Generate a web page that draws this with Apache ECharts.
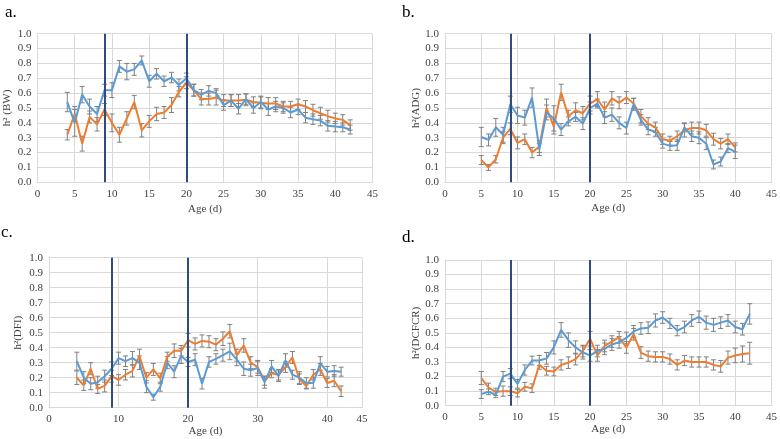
<!DOCTYPE html>
<html><head><meta charset="utf-8">
<script src="https://cdn.jsdelivr.net/npm/echarts@6/dist/echarts.min.js"></script>
<style>html,body{margin:0;padding:0;background:#fff}#c{width:780px;height:439px}</style>
</head><body><div id="c"></div>
<script>
// ---- Panel a: h2 (BW), ages 4..42
const ageA = [4,5,6,7,8,9,10,11,12,13,14,15,16,17,18,19,20,21,22,23,24,25,26,27,28,29,30,31,32,33,34,35,36,37,38,39,40,41,42];
const aBlue = [0.54,0.40,0.59,0.51,0.46,0.62,0.62,0.78,0.745,0.76,0.82,0.68,0.73,0.68,0.705,0.655,0.70,0.62,0.59,0.615,0.60,0.52,0.55,0.495,0.56,0.50,0.54,0.49,0.51,0.50,0.47,0.49,0.435,0.425,0.415,0.38,0.375,0.37,0.355];
const aBlueErr = [0.065,0.09,0.055,0.05,0.05,0.04,0.05,0.04,0.055,0.04,0.03,0.04,0.035,0.035,0.035,0.04,0.035,0.04,0.035,0.035,0.03,0.035,0.04,0.035,0.035,0.035,0.04,0.04,0.035,0.035,0.035,0.035,0.035,0.035,0.035,0.035,0.035,0.03,0.03];
const aOrange = [0.32,0.46,0.26,0.44,0.39,0.49,0.40,0.32,0.43,0.54,0.35,0.41,0.46,0.47,0.52,0.61,0.67,0.62,0.56,0.56,0.57,0.55,0.55,0.55,0.555,0.54,0.535,0.53,0.53,0.51,0.51,0.525,0.51,0.485,0.465,0.445,0.43,0.42,0.385];
const aOrangeErr = [0.035,0.05,0.05,0.04,0.045,0.04,0.06,0.05,0.045,0.045,0.045,0.04,0.045,0.04,0.05,0.035,0.04,0.04,0.04,0.04,0.05,0.04,0.04,0.04,0.04,0.035,0.04,0.04,0.04,0.035,0.035,0.035,0.04,0.04,0.04,0.04,0.035,0.035,0.035];

// ---- Panel b: h2 (ADG), ages 5..40
const ageB = [5,6,7,8,9,10,11,12,13,14,15,16,17,18,19,20,21,22,23,24,25,26,27,28,29,30,31,32,33,34,35,36,37,38,39,40];
const bBlue = [0.305,0.285,0.37,0.32,0.525,0.45,0.435,0.57,0.22,0.47,0.43,0.355,0.41,0.44,0.395,0.50,0.53,0.435,0.455,0.40,0.365,0.525,0.42,0.355,0.34,0.26,0.245,0.25,0.37,0.31,0.30,0.26,0.12,0.14,0.23,0.205];
const bBlueErr = [0.065,0.04,0.06,0.05,0.055,0.055,0.05,0.065,0.04,0.05,0.085,0.04,0.03,0.03,0.04,0.04,0.03,0.04,0.045,0.04,0.04,0.04,0.035,0.035,0.03,0.03,0.03,0.035,0.03,0.035,0.04,0.04,0.03,0.03,0.03,0.045];
const bOrange = [0.15,0.10,0.155,0.30,0.36,0.265,0.29,0.20,0.24,0.50,0.375,0.605,0.445,0.485,0.465,0.53,0.56,0.49,0.565,0.535,0.57,0.53,0.445,0.395,0.37,0.29,0.28,0.31,0.35,0.365,0.365,0.35,0.29,0.26,0.29,0.235];
const bOrangeErr = [0.03,0.02,0.025,0.04,0.04,0.04,0.035,0.035,0.04,0.06,0.05,0.055,0.04,0.05,0.045,0.05,0.05,0.05,0.045,0.04,0.04,0.035,0.045,0.04,0.035,0.035,0.03,0.035,0.045,0.04,0.04,0.04,0.04,0.035,0.035,0.03];

// ---- Panel c: h2 (DFI), ages 4..42
const ageC = ageA;
const cBlue = [0.31,0.20,0.16,0.17,0.21,0.26,0.33,0.31,0.33,0.30,0.14,0.07,0.14,0.30,0.24,0.345,0.305,0.32,0.16,0.305,0.325,0.35,0.375,0.32,0.26,0.25,0.265,0.17,0.275,0.21,0.315,0.22,0.20,0.165,0.165,0.295,0.24,0.245,0.24];
const cBlueErr = [0.06,0.04,0.04,0.04,0.04,0.045,0.04,0.035,0.045,0.045,0.04,0.02,0.03,0.04,0.04,0.05,0.03,0.04,0.035,0.035,0.035,0.04,0.055,0.04,0.045,0.04,0.05,0.04,0.04,0.035,0.045,0.03,0.04,0.035,0.035,0.045,0.035,0.035,0.03];
const cOrange = [0.20,0.15,0.26,0.125,0.145,0.21,0.185,0.22,0.245,0.345,0.20,0.255,0.195,0.34,0.38,0.38,0.45,0.425,0.445,0.44,0.42,0.46,0.51,0.35,0.415,0.30,0.27,0.18,0.23,0.22,0.27,0.335,0.19,0.145,0.22,0.255,0.165,0.18,0.11];
const cOrangeErr = [0.045,0.035,0.04,0.03,0.04,0.04,0.035,0.035,0.04,0.045,0.035,0.04,0.035,0.03,0.045,0.035,0.045,0.04,0.04,0.04,0.04,0.045,0.045,0.04,0.045,0.04,0.04,0.03,0.03,0.035,0.035,0.04,0.035,0.02,0.035,0.04,0.03,0.04,0.035];

// ---- Panel d: h2 (DCFCR), ages 5..42
const ageD = [5,6,7,8,9,10,11,12,13,14,15,16,17,18,19,20,21,22,23,24,25,26,27,28,29,30,31,32,33,34,35,36,37,38,39,40,41,42];
const dBlue = [0.08,0.095,0.075,0.20,0.22,0.15,0.245,0.31,0.31,0.325,0.40,0.52,0.45,0.40,0.365,0.345,0.375,0.39,0.42,0.435,0.465,0.51,0.53,0.535,0.585,0.605,0.565,0.515,0.54,0.585,0.61,0.57,0.555,0.57,0.585,0.54,0.525,0.63];
const dBlueErr = [0.03,0.02,0.02,0.035,0.035,0.03,0.035,0.03,0.035,0.04,0.045,0.05,0.05,0.045,0.045,0.04,0.04,0.04,0.04,0.04,0.04,0.04,0.04,0.04,0.045,0.04,0.035,0.035,0.04,0.04,0.04,0.045,0.045,0.04,0.04,0.04,0.04,0.07];
const dOrange = [0.19,0.125,0.095,0.10,0.10,0.085,0.13,0.12,0.28,0.24,0.235,0.28,0.295,0.32,0.375,0.46,0.345,0.41,0.44,0.47,0.40,0.49,0.365,0.34,0.335,0.335,0.32,0.28,0.31,0.30,0.30,0.30,0.28,0.27,0.33,0.345,0.355,0.36];
const dOrangeErr = [0.045,0.03,0.025,0.035,0.03,0.025,0.03,0.03,0.03,0.03,0.03,0.035,0.04,0.04,0.04,0.05,0.04,0.04,0.04,0.04,0.04,0.04,0.04,0.035,0.035,0.035,0.035,0.035,0.035,0.035,0.035,0.035,0.035,0.04,0.045,0.05,0.055,0.075];

const yTicks = [0,0.1,0.2,0.3,0.4,0.5,0.6,0.7,0.8,0.9,1.0];
const vLines = [9, 20];
const panelTitles = ['a.', 'b.', 'c.', 'd.'];
const yNames = ['h\u00B2 (BW)', 'h\u00B2(ADG)', 'h\u00B2(DFI)', 'h\u00B2(DCFCR)'];
const xName = 'Age (d)';

const BLUE = '#5b9bd5', ORANGE = '#ed7d31', NAVY = '#2f4b7f', ERR = '#808080', GRIDC = '#d9d9d9';
const FONT = 'Liberation Serif';

const panels = [
  {age: ageA, b: aBlue, be: aBlueErr, o: aOrange, oe: aOrangeErr, grid: {left: 37.5, top: 33.7, width: 335, height: 148.6}, xInt: 5, yGap: 25, xGap: 21},
  {age: ageB, b: bBlue, be: bBlueErr, o: bOrange, oe: bOrangeErr, grid: {left: 445, top: 33.7, width: 327, height: 148.6}, xInt: 5, yGap: 22, xGap: 20},
  {age: ageC, b: cBlue, be: cBlueErr, o: cOrange, oe: cOrangeErr, grid: {left: 49, top: 257.7, width: 313, height: 150}, xInt: 10, yGap: 25, xGap: 17},
  {age: ageD, b: dBlue, be: dBlueErr, o: dOrange, oe: dOrangeErr, grid: {left: 445, top: 260, width: 327, height: 145.7}, xInt: 5, yGap: 22, xGap: 18}
];

function errRender(params, api) {
  const x = api.value(0), y = api.value(1), e = api.value(2);
  const t = api.coord([x, y + e]);
  const b = api.coord([x, y - e]);
  const w = 2.5;
  const st = {stroke: ERR, lineWidth: 1};
  return {type: 'group', children: [
    {type: 'line', shape: {x1: t[0], y1: t[1], x2: b[0], y2: b[1]}, style: st},
    {type: 'line', shape: {x1: t[0] - w, y1: t[1], x2: t[0] + w, y2: t[1]}, style: st},
    {type: 'line', shape: {x1: b[0] - w, y1: b[1], x2: b[0] + w, y2: b[1]}, style: st}
  ]};
}

const grids = [], xAxes = [], yAxes = [], series = [], graphics = [];
panels.forEach((p, k) => {
  grids.push(p.grid);
  xAxes.push({
    type: 'value', gridIndex: k, min: 0, max: 45, interval: p.xInt,
    name: xName, nameLocation: 'middle', nameGap: p.xGap,
    nameTextStyle: {fontFamily: FONT, fontSize: 11, color: '#404040'},
    axisLine: {show: true, lineStyle: {color: GRIDC}}, axisTick: {show: false},
    axisLabel: {fontFamily: FONT, fontSize: 11, color: '#404040', margin: 6},
    splitLine: {show: true, lineStyle: {color: GRIDC, width: 1}}
  });
  yAxes.push({
    type: 'value', gridIndex: k, min: 0, max: 1, interval: 0.1,
    name: yNames[k], nameLocation: 'middle', nameGap: p.yGap, nameRotate: 90,
    nameTextStyle: {fontFamily: FONT, fontSize: 11, color: '#404040'},
    axisLine: {show: true, lineStyle: {color: GRIDC}}, axisTick: {show: false},
    axisLabel: {fontFamily: FONT, fontSize: 11, color: '#404040', margin: 6, formatter: v => v.toFixed(1)},
    splitLine: {show: true, lineStyle: {color: GRIDC, width: 1}}
  });
  const mk = (vals, errs) => p.age.map((a, i) => [a, vals[i], errs[i]]);
  series.push({type: 'custom', xAxisIndex: k, yAxisIndex: k, renderItem: errRender, data: mk(p.o, p.oe), encode: {x: 0, y: 1}, z: 2, silent: true});
  series.push({type: 'custom', xAxisIndex: k, yAxisIndex: k, renderItem: errRender, data: mk(p.b, p.be), encode: {x: 0, y: 1}, z: 2, silent: true});
  series.push({type: 'line', xAxisIndex: k, yAxisIndex: k, data: p.age.map((a, i) => [a, p.o[i]]), showSymbol: false, lineStyle: {color: ORANGE, width: 2}, itemStyle: {color: ORANGE}, z: 3, silent: true});
  series.push({type: 'line', xAxisIndex: k, yAxisIndex: k, data: p.age.map((a, i) => [a, p.b[i]]), showSymbol: false, lineStyle: {color: BLUE, width: 2}, itemStyle: {color: BLUE}, z: 4, silent: true,
    markLine: {silent: true, symbol: 'none', label: {show: false}, lineStyle: {color: NAVY, width: 2, type: 'solid'}, data: vLines.map(v => ({xAxis: v}))}});
});

const titlePos = [[5, 4], [402, 4], [1, 224], [402, 229]];
panelTitles.forEach((t, k) => {
  graphics.push({type: 'text', left: titlePos[k][0], top: titlePos[k][1], style: {text: t, fontFamily: FONT, fontSize: 17, fill: '#000'}});
});

const chart = echarts.init(document.getElementById('c'), null, {renderer: 'canvas'});
chart.setOption({
  animation: false,
  backgroundColor: '#fff',
  grid: grids, xAxis: xAxes, yAxis: yAxes, series: series, graphic: graphics
});
</script></body></html>
